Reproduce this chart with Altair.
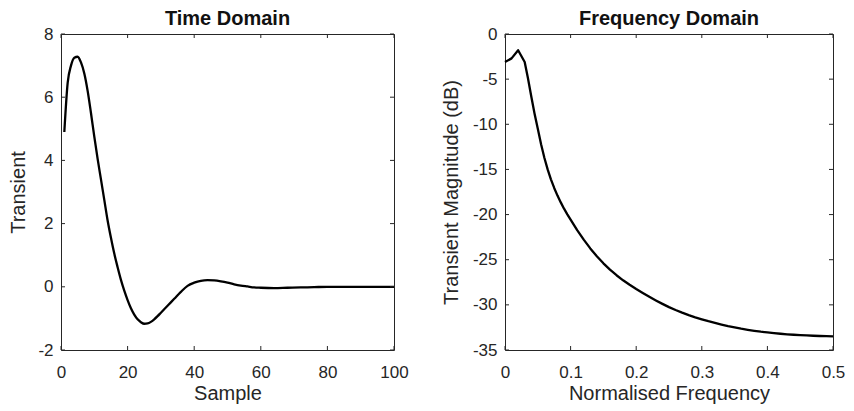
import altair as alt
import pandas as pd

# ---- data ----
samples = [1, 2, 3, 4, 5, 6, 7, 8, 9, 10, 11, 12, 13, 14, 15, 16, 17, 18, 19, 20,
           21, 22, 23, 24, 25, 26, 27, 28, 29, 30, 32, 34, 36, 38, 40, 42, 44, 46,
           48, 50, 52, 54, 56, 58, 60, 64, 68, 72, 76, 80, 85, 90, 95, 100]
transient = [4.9, 6.45, 7.0, 7.25, 7.28, 7.1, 6.75, 6.2, 5.5, 4.75, 4.05, 3.4, 2.75,
             2.1, 1.55, 1.05, 0.62, 0.22, -0.12, -0.42, -0.68, -0.88, -1.03, -1.12,
             -1.17, -1.16, -1.11, -1.03, -0.93, -0.82, -0.6, -0.38, -0.16, 0.03, 0.13,
             0.19, 0.21, 0.2, 0.17, 0.13, 0.08, 0.04, 0.01, -0.02, -0.03, -0.04, -0.03,
             -0.02, -0.01, 0.0, 0.0, 0.0, 0.0, 0.0]

freq = [0.0, 0.01, 0.02, 0.03, 0.035, 0.04, 0.045, 0.05, 0.055, 0.06, 0.065,
        0.07, 0.075, 0.08, 0.085, 0.09, 0.095,
        0.10, 0.11, 0.12, 0.13, 0.14, 0.15, 0.16, 0.17, 0.18, 0.19,
        0.20, 0.21, 0.22, 0.23, 0.24, 0.25, 0.26, 0.27, 0.28, 0.29,
        0.30, 0.31, 0.32, 0.33, 0.34, 0.35, 0.36, 0.37, 0.38, 0.39,
        0.40, 0.41, 0.42, 0.43, 0.44, 0.45, 0.46, 0.47, 0.48, 0.49, 0.50]
magnitude_db = [-3.1, -2.7, -1.8, -3.1, -4.9, -6.9, -8.8, -10.5, -12.2, -13.7, -15.0,
                -16.1, -17.05, -17.9, -18.65, -19.35, -19.97,
                -20.55, -21.72, -22.78, -23.75, -24.62, -25.4, -26.1, -26.72, -27.28, -27.78,
                -28.25, -28.69, -29.11, -29.51, -29.89, -30.25, -30.57, -30.86, -31.13, -31.38,
                -31.6, -31.81, -32.0, -32.18, -32.35, -32.5, -32.64, -32.76, -32.87, -32.97,
                -33.05, -33.13, -33.2, -33.26, -33.31, -33.35, -33.39, -33.42, -33.45, -33.47,
                -33.48]

time_x_ticks = [0, 20, 40, 60, 80, 100]
time_y_ticks = [-2, 0, 2, 4, 6, 8]
freq_x_ticks = [0, 0.1, 0.2, 0.3, 0.4, 0.5]
freq_y_ticks = [-35, -30, -25, -20, -15, -10, -5, 0]

# ---- styling ----
H = 316
TL = 4
AX = "#262626"
FONT = "Liberation Sans"
LABEL_EXPR = "'' + datum.value"


def panel(df, xf, yf, xdom, ydom, xt, yt, title, xtitle, ytitle, interp,
          ytitle_pad, W):
    xs = alt.Scale(domain=xdom, nice=False, zero=False)
    ys = alt.Scale(domain=ydom, nice=False, zero=False)
    xax = alt.Axis(values=xt, title=xtitle, labelExpr=LABEL_EXPR,
                   labelFlush=False, labelPadding=14, titlePadding=3)
    yax = alt.Axis(values=yt, title=ytitle, labelExpr=LABEL_EXPR,
                   labelPadding=8, titlePadding=ytitle_pad)
    line = alt.Chart(df).mark_line(
        color="black", strokeWidth=2.3, interpolate=interp, strokeJoin="round"
    ).encode(
        x=alt.X(f"{xf}:Q", scale=xs, axis=xax),
        y=alt.Y(f"{yf}:Q", scale=ys, axis=yax),
    )
    xt_df = pd.DataFrame({"t": xt})
    yt_df = pd.DataFrame({"t": yt})
    rule = dict(color=AX, strokeWidth=1)
    bottom = alt.Chart(xt_df).mark_rule(**rule).encode(
        x=alt.X("t:Q", scale=xs, axis=xax), y=alt.value(H), y2=alt.value(H - TL))
    top = alt.Chart(xt_df).mark_rule(**rule).encode(
        x=alt.X("t:Q", scale=xs, axis=xax), y=alt.value(0), y2=alt.value(TL))
    left = alt.Chart(yt_df).mark_rule(**rule).encode(
        y=alt.Y("t:Q", scale=ys, axis=yax), x=alt.value(0), x2=alt.value(TL))
    right = alt.Chart(yt_df).mark_rule(**rule).encode(
        y=alt.Y("t:Q", scale=ys, axis=yax), x=alt.value(W - TL), x2=alt.value(W))
    return alt.layer(line, bottom, top, left, right).properties(
        width=W, height=H,
        title=alt.TitleParams(title, font=FONT, fontSize=20, fontWeight="bold",
                              color="#111111", offset=-20, baseline="alphabetic",
                              anchor="middle"),
    )


time_df = pd.DataFrame({"sample": samples, "transient": transient})
freq_df = pd.DataFrame({"freq": freq, "mag": magnitude_db})

left_panel = panel(time_df, "sample", "transient", [0, 100], [-2, 8],
                   time_x_ticks, time_y_ticks, "Time Domain", "Sample", "Transient",
                   "monotone", 9, 333)
right_panel = panel(freq_df, "freq", "mag", [0, 0.5], [-35, 0],
                    freq_x_ticks, freq_y_ticks, "Frequency Domain",
                    "Normalised Frequency", "Transient Magnitude (dB)", "linear", 11, 328)

chart = alt.hconcat(left_panel, right_panel, spacing=31).properties(
    padding={"left": 0, "top": 0, "right": 0, "bottom": 0},
    background="white",
).configure_view(
    stroke=AX, strokeWidth=1
).configure_axis(
    domain=False, ticks=False, tickSize=0, grid=False,
    labelFont=FONT, labelFontSize=17, labelColor=AX,
    titleFont=FONT, titleFontSize=20, titleFontWeight="normal", titleColor=AX,
)

chart.save("out.html", embed_options={"renderer": "svg", "actions": False})
